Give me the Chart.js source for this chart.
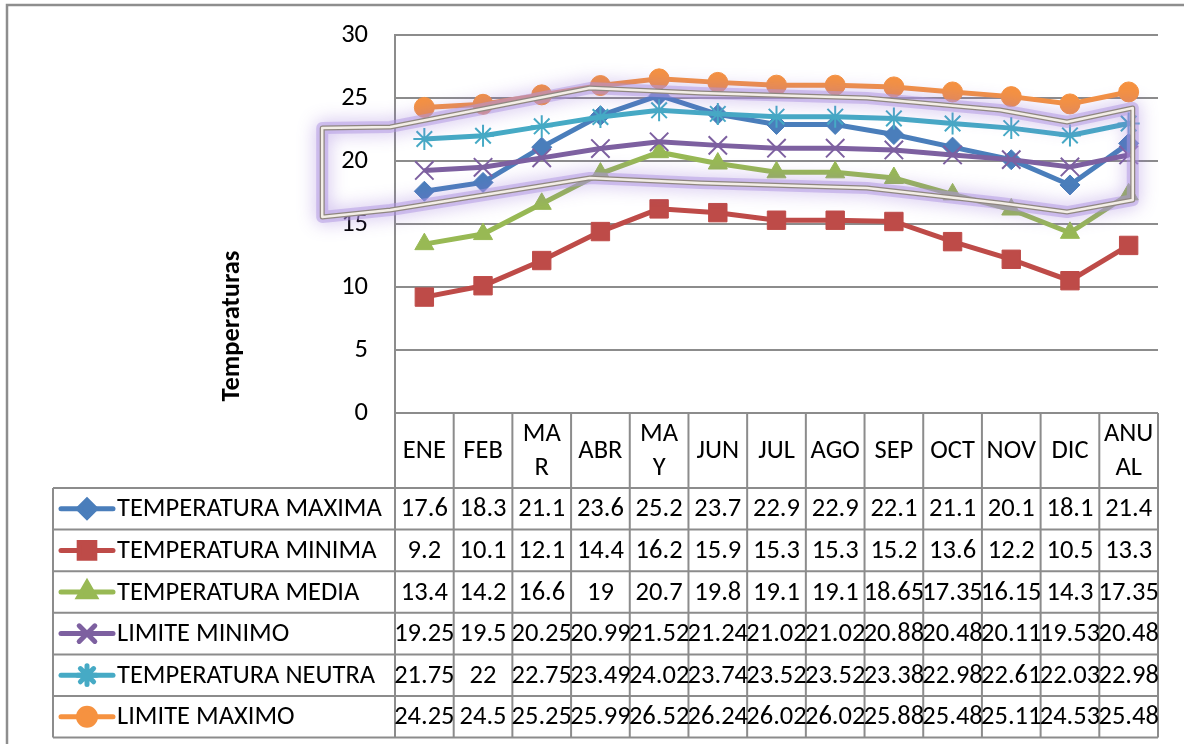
<!DOCTYPE html>
<html>
<head>
<meta charset="utf-8">
<script src="https://cdn.jsdelivr.net/npm/chart.js@4/dist/chart.umd.min.js"></script>
<style>
  html, body { margin: 0; padding: 0; background: #fff; }
  #wrap { width: 1184px; height: 744px; }
</style>
</head>
<body>
<div id="wrap"><canvas id="chart" width="1184" height="744"></canvas></div>
<script>
// ── Data ─────────────────────────────────────────────────────
const months = ['ENE', 'FEB', ['MA', 'R'], 'ABR', ['MA', 'Y'], 'JUN', 'JUL', 'AGO', 'SEP', 'OCT', 'NOV', 'DIC', ['ANU', 'AL']];

const tempMaxima  = [17.6, 18.3, 21.1, 23.6, 25.2, 23.7, 22.9, 22.9, 22.1, 21.1, 20.1, 18.1, 21.4];
const tempMinima  = [9.2, 10.1, 12.1, 14.4, 16.2, 15.9, 15.3, 15.3, 15.2, 13.6, 12.2, 10.5, 13.3];
const tempMedia   = [13.4, 14.2, 16.6, 19, 20.7, 19.8, 19.1, 19.1, 18.65, 17.35, 16.15, 14.3, 17.35];
const limiteMin   = [19.25, 19.5, 20.25, 20.99, 21.52, 21.24, 21.02, 21.02, 20.88, 20.48, 20.11, 19.53, 20.48];
const tempNeutra  = [21.75, 22, 22.75, 23.49, 24.02, 23.74, 23.52, 23.52, 23.38, 22.98, 22.61, 22.03, 22.98];
const limiteMax   = [24.25, 24.5, 25.25, 25.99, 26.52, 26.24, 26.02, 26.02, 25.88, 25.48, 25.11, 24.53, 25.48];

const yTicks = [0, 5, 10, 15, 20, 25, 30];

// highlighted comfort band (freeform shape), in [category index, value]
const bandTop    = [[-1.74, 22.62], [-0.58, 22.7], [2.82, 25.79], [4.7, 25.4], [7.54, 25.0], [9.81, 24.05], [10.95, 23.1], [12.07, 24.21]];
const bandBottom = [[-1.74, 15.56], [-0.58, 16.11], [2.82, 18.65], [4.7, 18.25], [7.54, 17.86], [9.81, 16.67], [10.95, 15.95], [12.07, 16.9]];

// ── Series styles ────────────────────────────────────────────
const series = [
    { label: 'TEMPERATURA MAXIMA', data: tempMaxima, color: '#4A7EBB', style: 'rectRot',  radius: 10, bw: 1 },
    { label: 'TEMPERATURA MINIMA', data: tempMinima, color: '#BE4B48', style: 'rect',     radius: 13, bw: 1 },
    { label: 'TEMPERATURA MEDIA',  data: tempMedia,  color: '#98B954', style: 'triangle', radius: 11, bw: 1 },
    { label: 'LIMITE MINIMO',      data: limiteMin,  color: '#7D60A0', style: 'crossRot', radius: 13, bw: 2 },
    { label: 'TEMPERATURA NEUTRA', data: tempNeutra, color: '#46AAC5', style: 'star',     radius: 11, bw: 2 },
    { label: 'LIMITE MAXIMO',      data: limiteMax,  color: '#F69240', style: 'circle',   radius: 10, bw: 1 },
];

const FONT = 'Calibri, Carlito, "Open Sans", sans-serif';
const FSIZE = 26.5;
const GRID = '#8c8c8c';

// ── Frame around the whole chart ─────────────────────────────
const framePlugin = {
    id: 'frame',
    beforeDraw(chart) {
        const ctx = chart.ctx;
        ctx.save();
        ctx.fillStyle = '#fff';
        ctx.fillRect(0, 0, chart.width, chart.height);
        ctx.strokeStyle = '#8e8e8e';
        ctx.lineWidth = 2.5;
        ctx.beginPath();
        ctx.moveTo(7, chart.height);
        ctx.lineTo(7, 5);
        ctx.lineTo(chart.width, 5);
        ctx.stroke();
        ctx.restore();
    }
};

// ── Glowing band drawn over the lines ────────────────────────
const bandPlugin = {
    id: 'band',
    afterDatasetsDraw(chart) {
        const ctx = chart.ctx, xs = chart.scales.x, ys = chart.scales.y;
        const pts = bandTop.concat(bandBottom.slice().reverse())
            .map(p => [xs.getPixelForValue(p[0]), ys.getPixelForValue(p[1])]);
        const path = () => {
            ctx.beginPath();
            pts.forEach((p, i) => i ? ctx.lineTo(p[0], p[1]) : ctx.moveTo(p[0], p[1]));
            ctx.closePath();
        };
        ctx.save();
        ctx.lineJoin = 'round';
        ctx.shadowColor = 'rgba(140,100,210,0.9)';
        ctx.shadowBlur = 18;
        path();
        ctx.strokeStyle = 'rgba(175,150,225,0.5)';
        ctx.lineWidth = 12;
        ctx.stroke();
        ctx.shadowBlur = 0;
        ctx.shadowColor = 'transparent';
        path();
        ctx.strokeStyle = '#8f8780';
        ctx.lineWidth = 5;
        ctx.stroke();
        path();
        ctx.strokeStyle = '#f3eee7';
        ctx.lineWidth = 2.5;
        ctx.stroke();
        ctx.restore();
    }
};

// ── Data table under the plot ────────────────────────────────
const tablePlugin = {
    id: 'dataTable',
    afterDraw(chart) {
        const ctx = chart.ctx, xs = chart.scales.x, area = chart.chartArea;
        const half = (xs.getPixelForValue(1) - xs.getPixelForValue(0)) / 2;
        const top = area.bottom;
        const headBottom = top + 75;
        const rowH = 41.6;
        const legLeft = 53;
        const bottom = headBottom + rowH * series.length;

        ctx.save();
        ctx.strokeStyle = GRID;
        ctx.lineWidth = 2;
        ctx.beginPath();
        // horizontal lines
        for (let k = 0; k <= series.length; k++) {
            const y = headBottom + k * rowH;
            ctx.moveTo(legLeft, y);
            ctx.lineTo(area.right, y);
        }
        // vertical lines
        for (let i = 0; i <= months.length; i++) {
            const x = xs.getPixelForValue(i) - half;
            ctx.moveTo(x, top);
            ctx.lineTo(x, bottom);
        }
        ctx.moveTo(legLeft, headBottom);
        ctx.lineTo(legLeft, bottom);
        ctx.stroke();

        ctx.fillStyle = '#000';
        ctx.font = FSIZE + 'px ' + FONT;
        ctx.textAlign = 'center';
        ctx.textBaseline = 'middle';

        // header (categories)
        months.forEach((m, i) => {
            const x = xs.getPixelForValue(i);
            const mid = (top + headBottom) / 2 + 1;
            if (Array.isArray(m)) {
                ctx.fillText(m[0], x, mid - 17);
                ctx.fillText(m[1], x, mid + 17);
            } else {
                ctx.fillText(m, x, mid);
            }
        });

        // rows
        series.forEach((s, r) => {
            const yc = headBottom + rowH * (r + 0.5);
            // legend key
            ctx.save();
            ctx.strokeStyle = s.color;
            ctx.lineWidth = 5;
            ctx.lineCap = 'round';
            ctx.beginPath();
            ctx.moveTo(61, yc);
            ctx.lineTo(113, yc);
            ctx.stroke();
            ctx.fillStyle = s.color;
            Chart.helpers.drawPoint(ctx, {
                pointStyle: s.style, radius: s.radius * 0.85, borderWidth: s.bw, rotation: 0
            }, 87, yc);
            ctx.restore();

            ctx.textAlign = 'left';
            ctx.fillText(s.label, 117, yc + 1);
            ctx.textAlign = 'center';
            s.data.forEach((v, i) => {
                ctx.fillText(String(v), xs.getPixelForValue(i), yc + 1);
            });
        });

        // axis title
        ctx.save();
        ctx.translate(232, 326);
        ctx.rotate(-Math.PI / 2);
        ctx.font = 'bold ' + FSIZE + 'px ' + FONT;
        ctx.fillText('Temperaturas', 0, 0);
        ctx.restore();

        ctx.restore();
    }
};

// ── Chart ────────────────────────────────────────────────────
const ctx = document.getElementById('chart').getContext('2d');
new Chart(ctx, {
    type: 'line',
    data: {
        labels: months,
        datasets: series.map((s, i) => ({
            label: s.label,
            data: s.data,
            borderColor: s.color,
            backgroundColor: s.color,
            borderWidth: 5,
            pointStyle: s.style,
            pointRadius: s.radius,
            pointHoverRadius: s.radius,
            pointBorderWidth: s.bw,
            pointBackgroundColor: s.color,
            pointBorderColor: s.color,
            tension: 0,
            fill: false,
            order: series.length - i,
        }))
    },
    options: {
        responsive: false,
        animation: false,
        events: [],
        layout: { padding: { top: 35, right: 26, bottom: 331, left: 0 } },
        plugins: {
            legend: { display: false },
            tooltip: { enabled: false },
        },
        scales: {
            x: {
                display: false,
                offset: true,
            },
            y: {
                min: 0,
                max: 30,
                afterFit(scale) {
                    scale.width = 395;
                    scale.paddingTop = 0;
                    scale.paddingBottom = 0;
                },
                afterBuildTicks(scale) { scale.ticks = yTicks.map(v => ({ value: v })); },
                ticks: { padding: 27, color: '#000', font: { family: FONT, size: FSIZE } },
                grid: { color: GRID, lineWidth: 2, drawTicks: false },
                border: { color: GRID, width: 2 },
            }
        }
    },
    plugins: [framePlugin, bandPlugin, tablePlugin]
});
</script>
</body>
</html>
